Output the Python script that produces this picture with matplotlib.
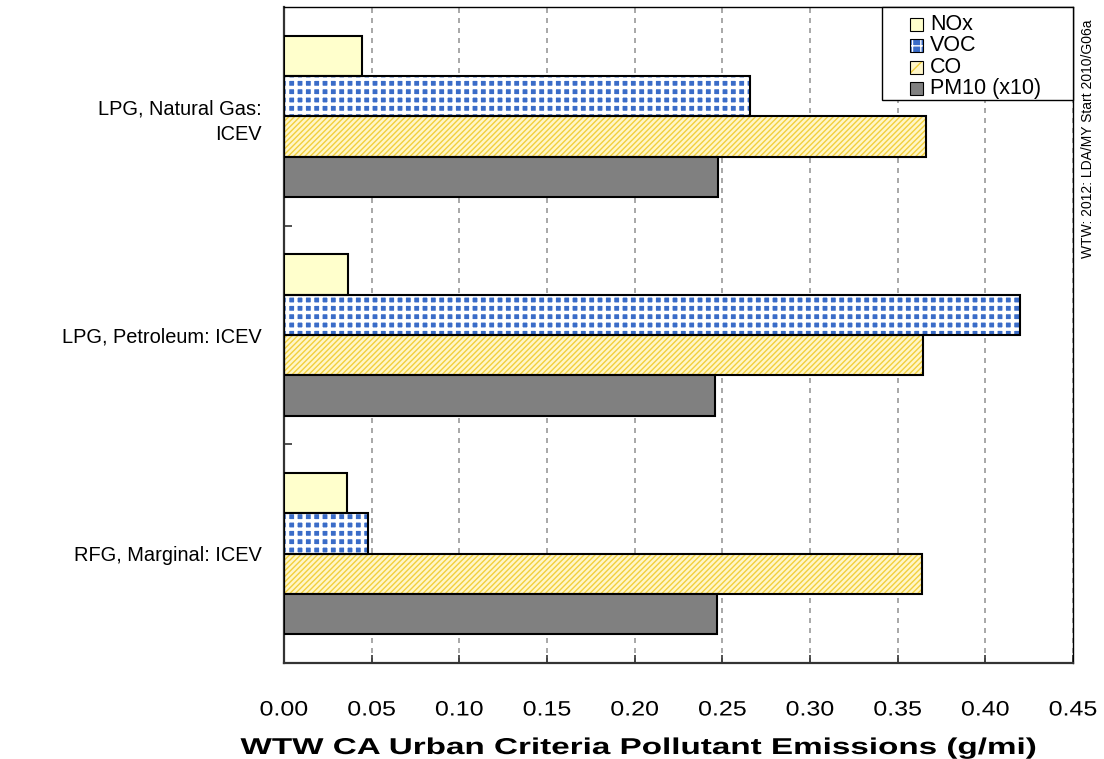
import numpy as np
import matplotlib
matplotlib.use('Agg')
from matplotlib import pyplot as plt
from matplotlib.patches import Rectangle
from matplotlib.patheffects import AbstractPathEffect
from matplotlib.transforms import Affine2D

'''Chart data'''
pathways = ['LPG, Natural Gas:\nICEV', 'LPG, Petroleum: ICEV', 'RFG, Marginal: ICEV']
series = ['NOx', 'VOC', 'CO', 'PM10 (x10)']
nox = [0.0447, 0.0367, 0.0359]
voc = [0.2658, 0.4200, 0.0479]
co = [0.3660, 0.3645, 0.3640]
pm10 = [0.2475, 0.2457, 0.2468]
xticks = [0.00, 0.05, 0.10, 0.15, 0.20, 0.25, 0.30, 0.35, 0.40, 0.45]
note = 'WTW: 2012: LDA/MY Start 2010/G06a'

plt.rcParams['font.family'] = ['Liberation Sans', 'DejaVu Sans']
plt.rcParams['hatch.linewidth'] = 1.0

W, H = 1104, 759


class Stretch(AbstractPathEffect):
    '''widen text glyphs horizontally about an anchor'''
    def __init__(self, sx, anchor=0.5):
        super().__init__()
        self.sx = sx
        self.anchor = anchor

    def draw_path(self, renderer, gc, tpath, affine, rgbFace=None):
        v = tpath.vertices
        x0, x1 = v[:, 0].min(), v[:, 0].max()
        c = x0 + self.anchor * (x1 - x0)
        st = Affine2D().translate(-c, 0).scale(self.sx, 1).translate(c, 0)
        renderer.draw_path(gc, tpath, st + affine, rgbFace)


def fx(px):
    return px / W


def fy(py):
    return 1 - py / H


fig = plt.figure(figsize=(W / 100, H / 100), dpi=100)
ax = fig.add_axes([fx(284), fy(663), fx(1073) - fx(284), fy(7) - fy(663)])

# face, hatch, hatch colour, hatch width for each series
styles = [
    ('#ffffcc', None, None, 1.0),
    ('#3a6cc8', '++', 'white', 2.5),
    ('#fff6c8', '//////', '#f2cf3c', 1.0),
    ('#808080', None, None, 1.0),
]


def hatched(p, lw):
    if hasattr(p, 'set_hatch_linewidth'):
        p.set_hatch_linewidth(lw)


h = 0.1846
centers = np.arange(len(pathways)) + 0.5
values = [nox, voc, co, pm10]
for k, (vals, (fc, hatch, hc, hlw)) in enumerate(zip(values, styles)):
    y = centers + (k - 1.5) * h
    if hatch:
        with plt.rc_context({'hatch.linewidth': hlw}):
            bars = ax.barh(y, vals, height=h, color=fc, hatch=hatch,
                           edgecolor=hc, linewidth=0, zorder=2)
        for b in bars:
            hatched(b, hlw)
        ax.barh(y, vals, height=h, facecolor='none', edgecolor='black',
                linewidth=1.5, zorder=3)
    else:
        ax.barh(y, vals, height=h, color=fc, edgecolor='black',
                linewidth=1.5, zorder=3)

ax.set_xlim(0, 0.45)
ax.set_ylim(3, 0)
ax.set_xticks(xticks)
ax.set_xticklabels(['%.2f' % t for t in xticks], fontsize=15)
for t in ax.get_xticklabels():
    t.set_path_effects([Stretch(1.2, 0.5)])
ax.set_yticks([1, 2])
ax.set_yticklabels([])
ax.set_yticks(centers, minor=True)
ax.set_yticklabels(pathways, minor=True, fontsize=14.4, ha='right',
                   multialignment='right', linespacing=1.45)
ax.tick_params(axis='y', which='minor', length=0, pad=16)
ax.tick_params(axis='both', which='major', direction='in', length=6,
               width=1.2, color='#333333')
ax.tick_params(axis='x', pad=27)

ax.xaxis.grid(True, linestyle=(0, (3, 3)), color='#9a9a9a', linewidth=1.2,
              zorder=1)
ax.set_axisbelow(True)
for s in ['left', 'bottom']:
    ax.spines[s].set_linewidth(1.6)
    ax.spines[s].set_color('#333333')
for s in ['top', 'right']:
    ax.spines[s].set_linewidth(1.0)
    ax.spines[s].set_color('black')

xl = ax.set_xlabel('WTW CA Urban Criteria Pollutant Emissions (g/mi)',
                   fontsize=16.5, fontweight='bold')
xl.set_path_effects([Stretch(1.45, 0.5)])
ax.xaxis.set_label_coords((637.5 - 284) / 789, (663 - 736) / 656)

# legend box drawn by hand so it sits flush in the corner
fig.add_artist(Rectangle((fx(882), fy(100)), fx(1073) - fx(882),
                         fy(7) - fy(100), transform=fig.transFigure,
                         facecolor='white', edgecolor='black', linewidth=1.0,
                         zorder=5))
for k, (fc, hatch, hc, hlw) in enumerate(styles):
    yc = 24.5 + 21.3 * k
    if hatch:
        with plt.rc_context({'hatch.linewidth': 1.0}):
            p = Rectangle((fx(910), fy(yc + 6.5)), fx(13), fy(0) - fy(13),
                          transform=fig.transFigure, facecolor=fc,
                          hatch=hatch[:2], edgecolor=hc, linewidth=0,
                          zorder=6)
        hatched(p, 1.0)
        fig.add_artist(p)
        fig.add_artist(Rectangle((fx(910), fy(yc + 6.5)), fx(13),
                                 fy(0) - fy(13), transform=fig.transFigure,
                                 facecolor='none', edgecolor='black',
                                 linewidth=0.8, zorder=7))
    else:
        fig.add_artist(Rectangle((fx(910), fy(yc + 6.5)), fx(13),
                                 fy(0) - fy(13), transform=fig.transFigure,
                                 facecolor=fc, edgecolor='black',
                                 linewidth=0.8, zorder=6))
    fig.text(fx(930), fy(yc), series[k], fontsize=15.5, ha='left',
             va='center', zorder=7)

fig.text(fx(1088), fy(139), note, rotation=90, fontsize=10, ha='center',
         va='center')

fig.savefig('out.png', dpi=100)
